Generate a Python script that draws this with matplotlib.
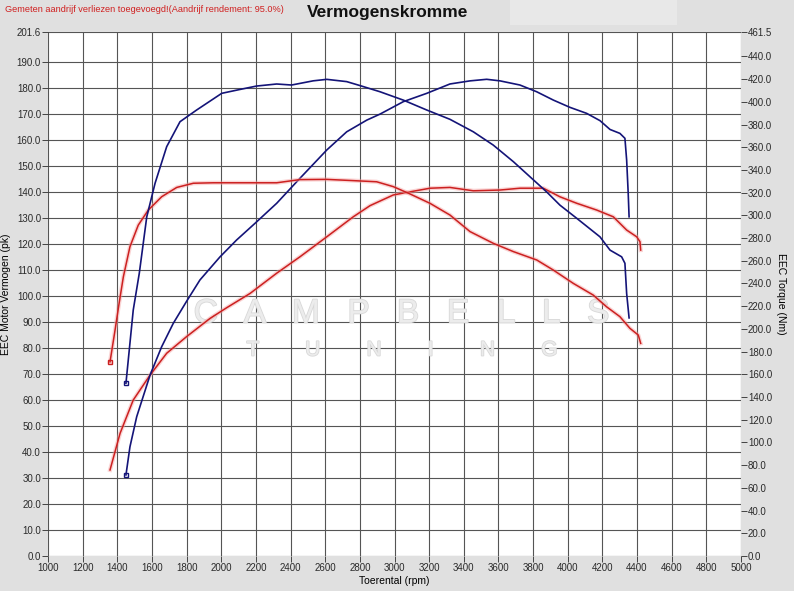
import numpy as np
import matplotlib
matplotlib.use("Agg")
import matplotlib.pyplot as plt
import matplotlib.patheffects as pe
from matplotlib.patches import Rectangle

plt.rcParams['font.family'] = ['Liberation Sans', 'DejaVu Sans']

# tuned (blue) torque, Nm
rpm_tq_tuned = [1450, 1492, 1527, 1570, 1618, 1685, 1762, 1858, 2003, 2108, 2204, 2320,
                2406, 2531, 2609, 2724, 2801, 2916, 3051, 3186, 3320, 3455, 3570, 3686,
                3782, 3878, 3955, 4052, 4186, 4244, 4311, 4330, 4340, 4354]
tq_tuned = [152.2, 216.6, 249.1, 298.7, 328.3, 360.5, 382.5, 392.8, 407.5, 410.9, 413.9, 415.7,
            414.8, 418.5, 419.8, 417.8, 414.3, 408.9, 401.5, 392.8, 384.6, 373.6, 361.9, 347.3,
            334.0, 320.7, 309.0, 297.4, 281.1, 269.4, 263.5, 257.8, 231.2, 209.7]

# tuned (blue) power, pk
rpm_pw_tuned = [1450, 1473, 1512, 1589, 1656, 1723, 1800, 1877, 1993, 2089, 2195, 2320, 2454,
                2609, 2724, 2840, 2916, 3051, 3186, 3320, 3436, 3532, 3609, 3724, 3821, 3917,
                4013, 4109, 4186, 4244, 4301, 4330, 4340, 4349, 4354]
pw_tuned = [31.2, 42.0, 53.6, 69.6, 80.5, 89.5, 98.0, 106.2, 115.1, 121.6, 128.0, 135.7, 145.3,
            156.2, 163.2, 167.7, 170.0, 174.8, 178.0, 181.6, 182.8, 183.4, 182.8, 181.2, 178.6, 175.4,
            172.6, 170.3, 167.5, 164.1, 162.6, 160.7, 152.3, 139.5, 130.5]

# stock (red) torque, Nm
rpm_tq_stock = [1358, 1387, 1410, 1435, 1473, 1521, 1579, 1656, 1743, 1839, 1954, 2147, 2320,
                2454, 2609, 2762, 2897, 2993, 3089, 3205, 3320, 3436, 3570, 3686, 3821, 3917,
                4032, 4147, 4224, 4301, 4359, 4407, 4421]
tq_stock = [171.0, 198.9, 222.1, 245.9, 272.4, 291.4, 304.7, 316.4, 324.6, 328.3, 328.7, 328.7, 328.7,
            331.5, 331.7, 330.6, 329.6, 325.3, 318.9, 310.6, 300.3, 285.7, 275.4, 268.1, 260.7, 251.8,
            240.1, 229.8, 219.5, 210.8, 200.5, 194.6, 187.3]

# stock (red) power, pk
rpm_pw_stock = [1358, 1416, 1492, 1589, 1685, 1800, 1935, 2031, 2166, 2320, 2454, 2609, 2762,
                2859, 2993, 3089, 3205, 3320, 3455, 3609, 3724, 3859, 3955, 4052, 4167, 4263,
                4340, 4398, 4417, 4421]
pw_stock = [33.1, 47.2, 60.0, 69.6, 78.0, 84.4, 91.4, 95.5, 101.0, 108.8, 115.1, 122.8, 130.5,
            134.8, 138.9, 140.1, 141.5, 141.8, 140.5, 140.8, 141.5, 141.5, 138.2, 135.7, 133.1, 130.5,
            125.4, 122.8, 120.9, 117.7]

x_ticks = list(range(1000, 5001, 200))
left_ticks = [v * 10 for v in range(20)] + [201.6]
right_ticks = [v * 20 for v in range(23)] + [461.5]

BLUE = '#141478'
RED = '#cc2020'
HALO = '#f4a0a0'

fig = plt.figure(figsize=(7.94, 5.91), dpi=100)
fig.patch.set_facecolor('#e0e0e0')
fig.patches.append(Rectangle((510 / 794, 1 - 25 / 591), 167 / 794, 25 / 591,
                             transform=fig.transFigure, facecolor='#e8e8e8',
                             edgecolor='none', zorder=0))

ax = fig.add_axes([48 / 794, 1 - 556 / 591, 693 / 794, 524 / 591])
ax.set_facecolor('white')
ax2 = ax.twinx()

ax.set_xlim(1000, 5000)
ax.set_ylim(0, 201.6)
ax2.set_ylim(0, 461.5)

ax.set_xticks(x_ticks)
ax.set_yticks(left_ticks)
ax.set_yticklabels([f"{v:.1f}" for v in left_ticks])
ax2.set_yticks(right_ticks)
ax2.set_yticklabels([f"{v:.1f}" for v in right_ticks])
ax.grid(True, color='#555555', linewidth=0.8)
ax.set_axisbelow(True)

for a in (ax, ax2):
    for s in a.spines.values():
        s.set_visible(False)
    a.tick_params(labelsize=7, colors='#2a2a2a', length=4, width=0.6, pad=1)

# watermark
wm = ax.text(0.51, 0.462, "C   A   M   P   B   E   L   L   S", transform=ax.transAxes,
             ha='center', va='center', fontsize=24, color='#ececec', zorder=1)
wm.set_path_effects([pe.withStroke(linewidth=1.2, foreground='#d8d8d8')])
wm2 = ax.text(0.51, 0.393, "T        U        N        I        N        G",
              transform=ax.transAxes, ha='center', va='center', fontsize=15,
              color='#ececec', zorder=1)
wm2.set_path_effects([pe.withStroke(linewidth=1.2, foreground='#d8d8d8')])

# curves
ax.plot(rpm_pw_stock, pw_stock, color=HALO, linewidth=3, alpha=0.45, zorder=3)
ax.plot(rpm_pw_stock, pw_stock, color=RED, linewidth=1.1, zorder=4)
ax.plot(rpm_pw_tuned, pw_tuned, color=BLUE, linewidth=1.2, zorder=4)
ax.plot(rpm_pw_tuned[0], pw_tuned[0], marker='s', markersize=2.5, mfc='none', mec=BLUE, zorder=5)

ax2.plot(rpm_tq_stock, tq_stock, color=HALO, linewidth=3, alpha=0.45, zorder=3)
ax2.plot(rpm_tq_stock, tq_stock, color=RED, linewidth=1.1, zorder=4)
ax2.plot(rpm_tq_stock[0], tq_stock[0], marker='s', markersize=2.5, mfc='none', mec=RED, zorder=5)
ax2.plot(rpm_tq_tuned, tq_tuned, color=BLUE, linewidth=1.2, zorder=4)
ax2.plot(rpm_tq_tuned[0], tq_tuned[0], marker='s', markersize=2.5, mfc='none', mec=BLUE, zorder=5)

ax.set_xlabel("Toerental (rpm)", fontsize=7.5, labelpad=2)
ax.set_ylabel("EEC Motor Vermogen (pk)", fontsize=7.5, labelpad=4)
ax2.set_ylabel("EEC Torque (Nm)", fontsize=7.5, rotation=-90, labelpad=10)

fig.text(388 / 794, 1 - 13 / 591, "Vermogenskromme", ha='center', va='center',
         fontsize=12.5, fontweight='bold', color='#111111')
fig.text(5 / 794, 1 - 9 / 591, "Gemeten aandrijf verliezen toegevoegd!(Aandrijf rendement: 95.0%)",
         ha='left', va='center', fontsize=6.6, color='#d02020')

fig.savefig("out.png", dpi=100, facecolor=fig.get_facecolor())
